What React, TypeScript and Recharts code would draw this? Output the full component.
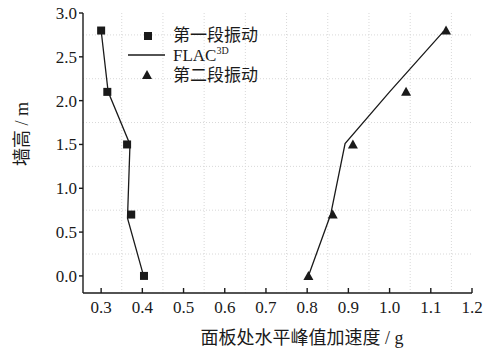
import React from 'react';
import { ScatterChart, Scatter, XAxis, YAxis, CartesianGrid } from 'recharts';

// measured points (acceleration g, wall height m)
const heights = [2.8, 2.1, 1.5, 0.7, 0.0];
const stage1Acc = [0.30, 0.315, 0.363, 0.373, 0.404];
const stage2Acc = [1.137, 1.04, 0.911, 0.862, 0.803];

// FLAC3D curves
const flacLeftAcc = [0.30, 0.317, 0.37, 0.364, 0.403];
const flacLeftH = [2.8, 2.1, 1.5, 0.66, 0.0];
const flacRightAcc = [0.803, 0.857, 0.892, 1.0, 1.131];
const flacRightH = [0.0, 0.7, 1.51, 2.1, 2.79];

const xTicks = [0.3, 0.4, 0.5, 0.6, 0.7, 0.8, 0.9, 1.0, 1.1, 1.2];
const yTicks = [0, 0.5, 1.0, 1.5, 2.0, 2.5, 3.0];
const gridX = [0.35, 0.45, 0.55, 0.65, 0.75, 0.85, 0.95, 1.05, 1.15];
const gridY = [0.25, 0.75, 1.25, 1.75, 2.25, 2.75];

const stage1 = heights.map((h, i) => ({ x: stage1Acc[i], y: h }));
const stage2 = heights.map((h, i) => ({ x: stage2Acc[i], y: h }));
const flacLeft = flacLeftAcc.map((x, i) => ({ x, y: flacLeftH[i] }));
const flacRight = flacRightAcc.map((x, i) => ({ x, y: flacRightH[i] }));

const FONT = '"Liberation Serif", "Noto Sans CJK SC", serif';
const INK = '#1a1a1a';

const Square = (p: any) => <rect x={p.cx - 4} y={p.cy - 4} width={8} height={8} fill={INK} />;
const Triangle = (p: any) => (
  <path d={`M${p.cx},${p.cy - 5} L${p.cx + 5},${p.cy + 4} L${p.cx - 5},${p.cy + 4} Z`} fill={INK} />
);
const NoDot = () => <g />;

const tickStyle = { fontSize: 17, fill: INK, fontFamily: FONT };

export default function App() {
  return (
    <div style={{ position: 'absolute', left: 0, top: 0, width: 488, height: 352, background: '#fff', fontFamily: FONT }}>
      <ScatterChart width={488} height={352} margin={{ top: 13, right: 16, bottom: 29, left: 0 }}>
        <CartesianGrid
          horizontalValues={gridY}
          verticalValues={gridX}
          stroke="#d8d8d8"
          strokeDasharray="1 2"
        />
        <XAxis
          type="number"
          dataKey="x"
          domain={[0.256, 1.2]}
          ticks={xTicks}
          allowDataOverflow
          height={30}
          stroke={INK}
          strokeWidth={1.4}
          tickSize={-5}
          tickMargin={13}
          tick={tickStyle}
          tickFormatter={(v: number) => v.toFixed(1)}
        />
        <YAxis
          type="number"
          dataKey="y"
          domain={[-0.195, 3]}
          ticks={yTicks}
          allowDataOverflow
          width={83}
          stroke={INK}
          strokeWidth={1.4}
          tickSize={4}
          tickMargin={2}
          tick={tickStyle}
          tickFormatter={(v: number) => v.toFixed(1)}
        />
        <Scatter data={flacLeft} line={{ stroke: INK, strokeWidth: 1.3 }} shape={NoDot} isAnimationActive={false} />
        <Scatter data={flacRight} line={{ stroke: INK, strokeWidth: 1.3 }} shape={NoDot} isAnimationActive={false} />
        <Scatter data={stage1} shape={Square} isAnimationActive={false} />
        <Scatter data={stage2} shape={Triangle} isAnimationActive={false} />
      </ScatterChart>

      {/* legend */}
      <svg style={{ position: 'absolute', left: 120, top: 24 }} width={60} height={64}>
        <rect x={24} y={8} width={8} height={8} fill={INK} />
        <line x1={8} y1={31} x2={45} y2={31} stroke={INK} strokeWidth={1.3} />
        <path d="M27,46 L32,55 L22,55 Z" fill={INK} />
      </svg>
      <div style={{ position: 'absolute', left: 173, top: 26, fontSize: 17, lineHeight: '20px', color: INK }}>第一段振动</div>
      <div style={{ position: 'absolute', left: 173, top: 46, fontSize: 17, lineHeight: '20px', color: INK }}>
        FLAC<sup style={{ fontSize: 10, verticalAlign: 'top', lineHeight: '10px' }}>3D</sup>
      </div>
      <div style={{ position: 'absolute', left: 173, top: 66, fontSize: 17, lineHeight: '20px', color: INK }}>第二段振动</div>

      {/* axis titles */}
      <div style={{ position: 'absolute', left: 195, top: 328, width: 214, textAlign: 'center', fontSize: 18, lineHeight: '20px', color: INK, whiteSpace: 'nowrap' }}>
        面板处水平峰值加速度 / g
      </div>
      <div
        style={{
          position: 'absolute', left: 22, top: 134, fontSize: 18, lineHeight: '20px', color: INK,
          whiteSpace: 'nowrap', transform: 'translate(-50%, -50%) rotate(-90deg)',
        }}
      >
        墙高 / m
      </div>
    </div>
  );
}
